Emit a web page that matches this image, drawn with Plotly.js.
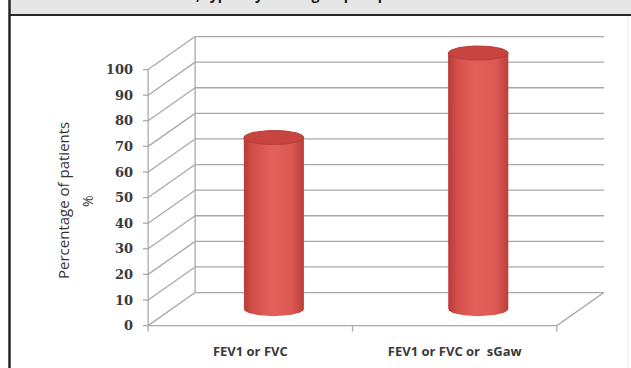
<!DOCTYPE html>
<html><head><meta charset="utf-8">
<script src="https://cdn.plot.ly/plotly-3.0.1.min.js"></script>
<style>html,body{margin:0;padding:0;background:#fff;}#chart{width:631px;height:368px;}</style>
</head><body><div id="chart"></div>
<script>
// ---- data ----
const categories = ['FEV1 or FVC', 'FEV1 or FVC or  sGaw'];
const values = [67, 100];
const yTickValues = [0, 10, 20, 30, 40, 50, 60, 70, 80, 90, 100];
const yTickLabels = ['0', '10', '20', '30', '40', '50', '60', '70', '80', '90', '100'];
const yAxisTitle = 'Percentage of patients';
const yAxisUnit = '%';
const chartTitle = 'Patients, typically of the group response';

// ---- layout geometry (style) ----
const W = 631, H = 368, L = 142, R = 23, T = 35, B = 36;
const DX = 0.23, DY = 12.9;          // pseudo-3D depth offset (x units, value units)
const xr = [-0.53, 1.75], yr = [-2.5, 113.5];
const gridColor = '#A9A9A9', gridW = 1.3;
const BW = 0.293, EB = 2.75;           // cylinder width, ellipse half-height (value units)
const plotW = W - L - R, plotH = H - T - B;
const xp = px => (px - L) / plotW;
const yp = py => (H - B - py) / plotH;

const shapes = [];
function seg(x0, y0, x1, y1, color, width) {
  shapes.push({type: 'line', xref: 'x', yref: 'y', x0, y0, x1, y1, layer: 'below', line: {color, width}});
}
const xFront0 = -0.5, xFront1 = categories.length - 0.5;
yTickValues.forEach(v => {
  seg(xFront0, v, xFront0 + DX, v + DY, gridColor, gridW);
  seg(xFront0 + DX, v + DY, xFront1 + DX, v + DY, gridColor, gridW);
  seg(xFront0 - 0.025, v, xFront0, v, gridColor, gridW);   // y tick mark
});
const yMax = yTickValues[yTickValues.length - 1];
seg(xFront0 + DX, DY, xFront0 + DX, yMax + DY, gridColor, gridW);   // back wall edge
seg(xFront0, 0, xFront0, yMax, gridColor, gridW);                   // front axis line
seg(xFront0, 0, xFront1, 0, gridColor, gridW);                      // floor front edge
seg(xFront1, 0, xFront1 + DX, DY, gridColor, gridW);                // floor right edge
for (let i = 0; i <= categories.length; i++) seg(i - 0.5, 0, i - 0.5, -2.3, gridColor, gridW); // x ticks

// frame decorations (paper coords)
shapes.push({type: 'rect', xref: 'paper', yref: 'paper', x0: xp(9), x1: xp(W), y0: yp(15), y1: yp(0),
  fillcolor: '#E6E6E6', line: {width: 0}, layer: 'below'});
shapes.push({type: 'line', xref: 'paper', yref: 'paper', x0: xp(9), x1: xp(W), y0: yp(15), y1: yp(15),
  line: {color: '#262626', width: 2}, layer: 'below'});
shapes.push({type: 'line', xref: 'paper', yref: 'paper', x0: xp(9.5), x1: xp(9.5), y0: yp(0), y1: yp(H),
  line: {color: '#262626', width: 2.5}, layer: 'below'});
shapes.push({type: 'line', xref: 'paper', yref: 'paper', x0: xp(628), x1: xp(628), y0: yp(16), y1: yp(H),
  line: {color: '#E4E4E4', width: 1}, layer: 'below'});

// ---- traces ----
const cx = categories.map((c, i) => i + DX / 2);
const base = DY / 2;
const traces = [{
  type: 'bar', x: cx, y: values, base: base, width: BW,
  marker: {color: '#DA5651', line: {width: 0}}, hoverinfo: 'skip', showlegend: false
}];
const a = BW / 2;
values.forEach((v, i) => {
  const c = cx[i], top = base + v;
  const xs = [c - a], ys = [top];
  for (let k = 0; k <= 40; k++) {
    const t = Math.PI + Math.PI * k / 40;
    xs.push(c + a * Math.cos(t)); ys.push(base + EB * Math.sin(t));
  }
  xs.push(c + a, c - a); ys.push(top, top);
  traces.push({type: 'scatter', x: xs, y: ys, mode: 'lines', line: {width: 0, color: 'rgba(0,0,0,0)'},
    fill: 'toself', fillgradient: {type: 'horizontal',
      colorscale: [[0, '#B43B37'], [0.15, '#D44E4A'], [0.45, '#E2605B'], [0.8, '#DC5853'], [1, '#BA3F3B']]},
    hoverinfo: 'skip', showlegend: false});
  const ex = [], ey = [];
  for (let k = 0; k <= 60; k++) {
    const t = 2 * Math.PI * k / 60;
    ex.push(c + a * Math.cos(t)); ey.push(top + EB * Math.sin(t));
  }
  traces.push({type: 'scatter', x: ex, y: ey, mode: 'lines', line: {color: '#B53D3A', width: 1},
    fill: 'toself', fillcolor: '#C8443F', hoverinfo: 'skip', showlegend: false});
});

const layout = {
  width: W, height: H, margin: {l: L, r: R, t: T, b: B},
  paper_bgcolor: '#FFFFFF', plot_bgcolor: 'rgba(0,0,0,0)', showlegend: false,
  xaxis: {range: xr, showgrid: false, zeroline: false, showline: false, ticks: '',
    tickmode: 'array', tickvals: categories.map((c, i) => i),
    ticktext: categories.map(c => c.replace(/  /g, ' \u00a0')),
    ticklabelstandoff: 10,
    tickfont: {family: 'Open Sans', size: 13, weight: 'bold', color: '#3A3A3A'}},
  yaxis: {range: yr, showgrid: false, zeroline: false, showline: false, ticks: '',
    tickmode: 'array', tickvals: yTickValues, ticktext: yTickLabels, ticklabelstandoff: 8,
    tickfont: {family: 'DejaVu Serif', size: 13, weight: 'bold', color: '#3A3A3A'}},
  shapes: shapes,
  annotations: [
    {text: yAxisTitle, xref: 'paper', yref: 'paper', x: xp(63), y: yp(201), textangle: -90,
     xanchor: 'center', yanchor: 'middle', showarrow: false,
     font: {family: 'Open Sans', size: 15, color: '#333333'}},
    {text: yAxisUnit, xref: 'paper', yref: 'paper', x: xp(87), y: yp(201), textangle: -90,
     xanchor: 'center', yanchor: 'middle', showarrow: false,
     font: {family: 'Open Sans', size: 14, color: '#333333'}},
    {text: chartTitle, xref: 'paper', yref: 'paper', x: xp(136), y: yp(5.5),
     xanchor: 'left', yanchor: 'bottom', showarrow: false,
     font: {family: 'Open Sans', size: 14, weight: 'bold', color: '#1A1A1A'}}
  ]
};
Plotly.newPlot('chart', traces, layout, {staticPlot: true, displayModeBar: false});
</script>
</body></html>
